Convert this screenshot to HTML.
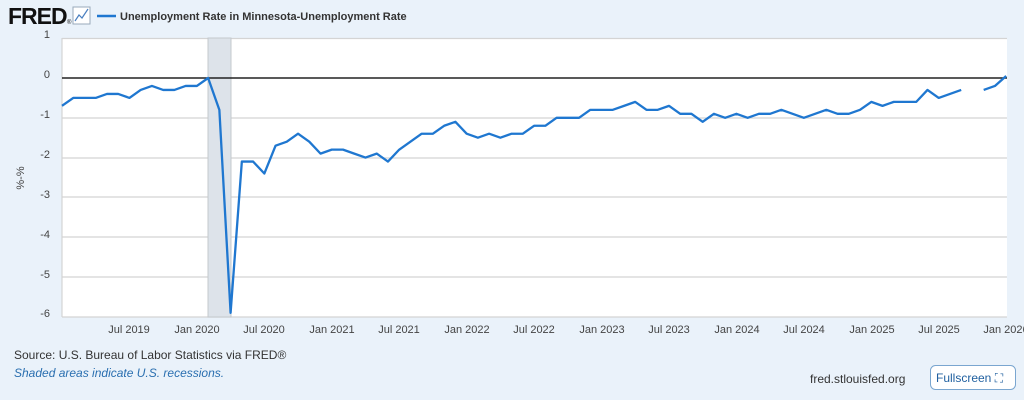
<!DOCTYPE html>
<html><head><meta charset="utf-8"><style>
body{margin:0;width:1024px;height:400px;background:#eaf2fa;font-family:"Liberation Sans",sans-serif;overflow:hidden}
</style></head><body>
<svg width="1024" height="400" xmlns="http://www.w3.org/2000/svg" style="position:absolute;left:0;top:0">
<rect x="0" y="0" width="1024" height="400" fill="#eaf2fa"/>
<text x="8" y="24" font-size="23" font-weight="bold" fill="#111" letter-spacing="-1">FRED</text>
<text x="67" y="24" font-size="6" fill="#111">®</text>
<rect x="73" y="7" width="17" height="17" fill="#fff" stroke="#9ab" stroke-width="1"/>
<polyline points="75,21 79,15 82,18 88,9" fill="none" stroke="#4a7fc0" stroke-width="1.2"/>
<line x1="97" y1="16" x2="116" y2="16" stroke="#1f77d0" stroke-width="2.5"/>
<text x="120" y="20" font-size="11" font-weight="bold" fill="#333">Unemployment Rate in Minnesota-Unemployment Rate</text>
<rect x="62" y="38" width="945" height="279" fill="#fff"/>
<g stroke="#d4d4d4" stroke-width="1.2">
<line x1="62" y1="38.5" x2="1007" y2="38.5"/><line x1="62" y1="118" x2="1007" y2="118"/>
<line x1="62" y1="158" x2="1007" y2="158"/><line x1="62" y1="197" x2="1007" y2="197"/>
<line x1="62" y1="237" x2="1007" y2="237"/><line x1="62" y1="277" x2="1007" y2="277"/>
<line x1="62" y1="317" x2="1007" y2="317"/><line x1="62" y1="38" x2="62" y2="317"/>
</g>
<rect x="208" y="38" width="23" height="279" fill="#dde3ea" stroke="#c4c8cc" stroke-width="1"/>
<line x1="62" y1="78" x2="1007" y2="78" stroke="#222" stroke-width="1.5"/>
<g transform="translate(62,78) scale(11.24,-39.8)" fill="none" stroke="#1f77d0" stroke-width="2.3" stroke-linejoin="round">
<polyline vector-effect="non-scaling-stroke" points="0,-0.7 1,-0.5 2,-0.5 3,-0.5 4,-0.4 5,-0.4 6,-0.5 7,-0.3 8,-0.2 9,-0.3 10,-0.3 11,-0.2 12,-0.2 13,0 14,-0.8 15,-5.9 16,-2.1 17,-2.1 18,-2.4 19,-1.7 20,-1.6 21,-1.4 22,-1.6 23,-1.9 24,-1.8 25,-1.8 26,-1.9 27,-2.0 28,-1.9 29,-2.1 30,-1.8 31,-1.6 32,-1.4 33,-1.4 34,-1.2 35,-1.1 36,-1.4 37,-1.5 38,-1.4 39,-1.5 40,-1.4 41,-1.4 42,-1.2 43,-1.2 44,-1.0 45,-1.0 46,-1.0 47,-0.8 48,-0.8 49,-0.8 50,-0.7 51,-0.6 52,-0.8 53,-0.8 54,-0.7 55,-0.9 56,-0.9 57,-1.1 58,-0.9 59,-1.0 60,-0.9 61,-1.0 62,-0.9 63,-0.9 64,-0.8 65,-0.9 66,-1.0 67,-0.9 68,-0.8 69,-0.9 70,-0.9 71,-0.8 72,-0.6 73,-0.7 74,-0.6 75,-0.6 76,-0.6 77,-0.3 78,-0.5 79,-0.4 80,-0.3"/>
<polyline vector-effect="non-scaling-stroke" points="82,-0.3 83,-0.2 84,0.05"/>
</g>
<g font-size="11" fill="#444" text-anchor="end">
<text x="50" y="38">1</text><text x="50" y="78">0</text><text x="50" y="118">-1</text>
<text x="50" y="158">-2</text><text x="50" y="198">-3</text><text x="50" y="238">-4</text>
<text x="50" y="278">-5</text><text x="50" y="317">-6</text>
</g>
<text transform="translate(24,178) rotate(-90)" font-size="11" fill="#444" text-anchor="middle">%-%</text>
<g font-size="11" fill="#444" text-anchor="middle">
<text x="129" y="333">Jul 2019</text><text x="197" y="333">Jan 2020</text><text x="264" y="333">Jul 2020</text>
<text x="332" y="333">Jan 2021</text><text x="399" y="333">Jul 2021</text><text x="467" y="333">Jan 2022</text>
<text x="534" y="333">Jul 2022</text><text x="602" y="333">Jan 2023</text><text x="669" y="333">Jul 2023</text>
<text x="737" y="333">Jan 2024</text><text x="804" y="333">Jul 2024</text><text x="872" y="333">Jan 2025</text>
<text x="939" y="333">Jul 2025</text><text x="1006" y="333">Jan 2026</text>
</g>
<text x="14" y="359" font-size="12" fill="#333">Source: U.S. Bureau of Labor Statistics via FRED®</text>
<text x="14" y="377" font-size="12" fill="#2a6fb0" font-style="italic">Shaded areas indicate U.S. recessions.</text>
<text x="810" y="383" font-size="12" fill="#333">fred.stlouisfed.org</text>
<rect x="930.5" y="365.5" width="85" height="24" rx="5" fill="#fff" stroke="#7aa6d0"/>
<text x="936" y="382" font-size="12" fill="#1f5f9f">Fullscreen ⛶</text>
</svg>
</body></html>
